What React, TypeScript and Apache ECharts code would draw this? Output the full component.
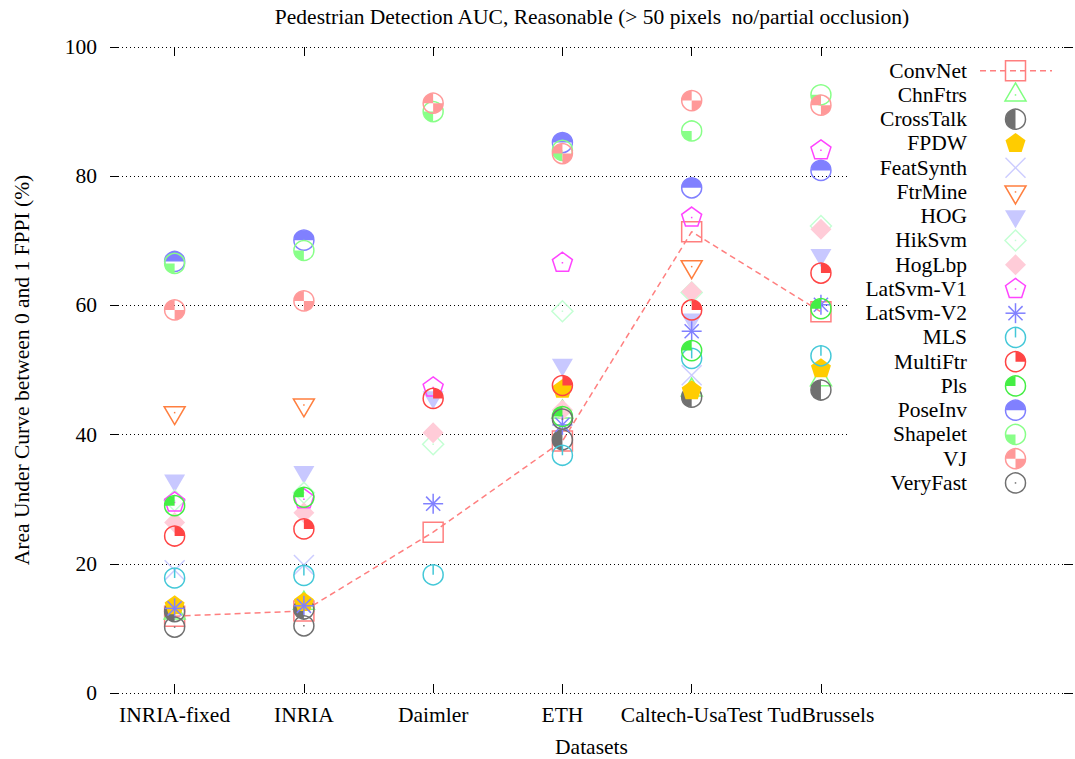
import React, { useEffect, useRef } from "react";
import * as echarts from "echarts";

// Datasets on the x axis and value ticks on the y axis
const datasets = ["INRIA-fixed", "INRIA", "Daimler", "ETH", "Caltech-UsaTest", "TudBrussels"];
const yTicks = [0, 20, 40, 60, 80, 100];

// Area under curve (%) per detector, one value per dataset (null = not evaluated)
const convNet = [11.9, 12.7, 24.9, 39.0, 71.4, 59.0];
const chnFtrs = [12.4, 13.9, null, 43.5, 46.9, 48.5];
const crossTalk = [12.6, 13.0, null, 39.2, 45.8, 46.9];
const fpdw = [13.5, 14.0, null, 47.0, 46.8, 50.2];
const featSynth = [19.0, 19.8, null, null, 49.2, null];
const ftrMine = [43.4, 44.6, null, null, 66.0, null];
const hog = [32.9, 34.2, 45.8, 50.8, 57.8, 67.8];
const hikSvm = [29.8, 31.0, 38.5, 59.1, 62.0, 72.3];
const hogLbp = [26.4, 27.9, 40.3, 43.8, 62.1, 71.8];
const latSvmV1 = [29.5, 30.0, 47.3, 66.6, 73.6, 84.0];
const latSvmV2 = [13.1, 13.5, 29.3, 41.5, 56.0, 60.1];
const mls = [17.8, 18.2, 18.3, 36.8, 51.8, 52.2];
const multiFtr = [24.3, 25.4, 45.6, 47.6, 59.3, 65.0];
const pls = [29.0, 30.3, null, 42.8, 53.0, 59.5];
const poseInv = [66.8, 70.1, null, 85.2, 78.2, 80.9];
const shapelet = [66.5, 68.5, 90.0, 84.0, 87.0, 92.6];
const vj = [59.3, 60.7, 91.3, 83.5, 91.7, 91.0];
const veryFast = [10.2, 10.4, null, 42.4, null, null];

type Kind =
  | "square" | "triUpDot" | "halfLeft" | "pentFill" | "cross" | "triDownDot"
  | "triDownFill" | "diamondDot" | "diamondFill" | "pentDot" | "asterisk"
  | "ringTop" | "quarterTR" | "quarterTL" | "halfTop" | "quarterBL" | "checker" | "ringDot";

const detectors: { name: string; values: (number | null)[]; kind: Kind; color: string }[] = [
  { name: "ConvNet", values: convNet, kind: "square", color: "#ff7f7f" },
  { name: "ChnFtrs", values: chnFtrs, kind: "triUpDot", color: "#7fff7f" },
  { name: "CrossTalk", values: crossTalk, kind: "halfLeft", color: "#707070" },
  { name: "FPDW", values: fpdw, kind: "pentFill", color: "#ffcc00" },
  { name: "FeatSynth", values: featSynth, kind: "cross", color: "#ccccff" },
  { name: "FtrMine", values: ftrMine, kind: "triDownDot", color: "#ff7f3f" },
  { name: "HOG", values: hog, kind: "triDownFill", color: "#c8c8ff" },
  { name: "HikSvm", values: hikSvm, kind: "diamondDot", color: "#c4ffd4" },
  { name: "HogLbp", values: hogLbp, kind: "diamondFill", color: "#ffccd8" },
  { name: "LatSvm-V1", values: latSvmV1, kind: "pentDot", color: "#ff44ff" },
  { name: "LatSvm-V2", values: latSvmV2, kind: "asterisk", color: "#8080ff" },
  { name: "MLS", values: mls, kind: "ringTop", color: "#44c8d8" },
  { name: "MultiFtr", values: multiFtr, kind: "quarterTR", color: "#ff4444" },
  { name: "Pls", values: pls, kind: "quarterTL", color: "#44ee44" },
  { name: "PoseInv", values: poseInv, kind: "halfTop", color: "#8080ff" },
  { name: "Shapelet", values: shapelet, kind: "quarterBL", color: "#88ff88" },
  { name: "VJ", values: vj, kind: "checker", color: "#ff9999" },
  { name: "VeryFast", values: veryFast, kind: "ringDot", color: "#707070" },
];

const FONT = "'Liberation Serif', 'Times New Roman', serif";
const FONT_SIZE = 21.5;
const R = 10;
const LW = 1.5;
const PI = Math.PI;

function polyPoints(cx: number, cy: number, r: number, n: number, start: number) {
  const pts: number[][] = [];
  for (let k = 0; k < n; k++) {
    const a = start + (k * 2 * PI) / n;
    pts.push([cx + r * Math.cos(a), cy + r * Math.sin(a)]);
  }
  return pts;
}

// Builds the drawing primitives of one marker centred at (cx, cy)
function markerShapes(kind: Kind, color: string, cx: number, cy: number): any[] {
  const stroke = { fill: "none", stroke: color, lineWidth: LW };
  const dot = { type: "rect", shape: { x: cx - 0.75, y: cy - 0.75, width: 1.5, height: 1.5 }, style: { fill: color } };
  const ring = { type: "circle", shape: { cx, cy, r: R }, style: stroke };
  const sector = (a0: number, a1: number) => ({
    type: "sector",
    shape: { cx, cy, r0: 0, r: R, startAngle: a0, endAngle: a1, clockwise: true },
    style: { fill: color },
  });
  const line = (x1: number, y1: number, x2: number, y2: number) => ({
    type: "line",
    shape: { x1, y1, x2, y2 },
    style: { stroke: color, lineWidth: LW },
  });
  const triUp = [[cx, cy - 12], [cx + 10.5, cy + 6], [cx - 10.5, cy + 6]];
  const triDown = [[cx, cy + 12], [cx + 10.5, cy - 6], [cx - 10.5, cy - 6]];
  const diamond = [[cx, cy - 10.5], [cx + 10.5, cy], [cx, cy + 10.5], [cx - 10.5, cy]];
  switch (kind) {
    case "square":
      return [{ type: "rect", shape: { x: cx - R, y: cy - R, width: 2 * R, height: 2 * R }, style: stroke }];
    case "triUpDot":
      return [{ type: "polygon", shape: { points: triUp }, style: stroke }, dot];
    case "halfLeft":
      return [sector(PI / 2, (3 * PI) / 2), ring];
    case "pentFill":
      return [{ type: "polygon", shape: { points: polyPoints(cx, cy, 10.5, 5, -PI / 2) }, style: { fill: color } }];
    case "cross":
      return [line(cx - 10, cy - 10, cx + 10, cy + 10), line(cx - 10, cy + 10, cx + 10, cy - 10)];
    case "triDownDot":
      return [{ type: "polygon", shape: { points: triDown }, style: stroke }, dot];
    case "triDownFill":
      return [{ type: "polygon", shape: { points: triDown }, style: { fill: color } }];
    case "diamondDot":
      return [{ type: "polygon", shape: { points: diamond }, style: stroke }, dot];
    case "diamondFill":
      return [{ type: "polygon", shape: { points: diamond }, style: { fill: color } }];
    case "pentDot":
      return [{ type: "polygon", shape: { points: polyPoints(cx, cy, 10.5, 5, -PI / 2) }, style: stroke }, dot];
    case "asterisk": {
      const d = 10 * Math.SQRT1_2;
      return [
        line(cx, cy - 10, cx, cy + 10),
        line(cx - 10, cy, cx + 10, cy),
        line(cx - d, cy - d, cx + d, cy + d),
        line(cx - d, cy + d, cx + d, cy - d),
      ];
    }
    case "ringTop":
      return [ring, line(cx, cy - R, cx, cy)];
    case "quarterTR":
      return [sector(-PI / 2, 0), ring];
    case "quarterTL":
      return [sector(PI, (3 * PI) / 2), ring];
    case "halfTop":
      return [sector(PI, 2 * PI), ring];
    case "quarterBL":
      return [sector(PI / 2, PI), ring];
    case "checker":
      return [sector(PI, (3 * PI) / 2), sector(0, PI / 2), ring];
    case "ringDot":
      return [ring, dot];
  }
  return [];
}

// Legend block drawn inside the plot's upper-right corner
function legendElements(): any[] {
  const els: any[] = [];
  const top = 70.7;
  const step = 24.25;
  const textX = 967;
  const markX = 1015.5;
  els.push({ type: "rect", shape: { x: 848, y: 57, width: 227, height: 441 }, style: { fill: "#ffffff" }, z: 100 });
  detectors.forEach((d, i) => {
    const y = top + i * step;
    els.push({
      type: "text",
      x: textX,
      y,
      z: 101,
      style: {
        text: d.name,
        fill: "#000",
        font: `${FONT_SIZE}px ${FONT}`,
        align: "right",
        verticalAlign: "middle",
        textAlign: "right",
        textVerticalAlign: "middle",
      },
    });
    if (d.name === "ConvNet") {
      els.push({
        type: "line",
        z: 101,
        shape: { x1: 980, y1: y, x2: 1052, y2: y },
        style: { stroke: d.color, lineWidth: LW, lineDash: [6, 4] },
      });
    }
    markerShapes(d.kind, d.color, markX, y).forEach((s) => els.push({ ...s, z: 102 }));
  });
  return els;
}

const catIndex = datasets.map((_, i) => i);

export default function App() {
  const ref = useRef<HTMLDivElement>(null);

  useEffect(() => {
    if (!ref.current) return;
    const chart = echarts.init(ref.current, undefined, { renderer: "svg" });

    const markerSeries = detectors.map((d) => ({
      type: "custom",
      name: d.name,
      xAxisIndex: 0,
      yAxisIndex: 0,
      encode: { x: 0, y: 1 },
      data: d.values.flatMap((v, i) => (v == null ? [] : [[i, v]])),
      renderItem: (_p: any, api: any) => {
        const pt = api.coord([api.value(0), api.value(1)]);
        return { type: "group", children: markerShapes(d.kind, d.color, pt[0], pt[1]) };
      },
    }));

    const tickStyle = { show: true, inside: true, length: 9, lineStyle: { color: "#000", width: 1 } };

    const option: any = {
      animation: false,
      backgroundColor: "#ffffff",
      grid: { left: 110, right: 2, top: 47, bottom: 66, containLabel: false, outerBoundsMode: "none" },
      xAxis: [
        {
          type: "value",
          min: -0.5,
          max: 6.95,
          position: "bottom",
          axisLine: { show: false, onZero: false },
          splitLine: { show: false },
          axisTick: { ...tickStyle, customValues: catIndex },
          axisLabel: {
            customValues: catIndex,
            formatter: (v: number) => datasets[Math.round(v)] ?? "",
            fontFamily: FONT,
            fontSize: FONT_SIZE,
            color: "#000",
            margin: 11,
          },
          name: "Datasets",
          nameLocation: "middle",
          nameGap: 43,
          nameTextStyle: { fontFamily: FONT, fontSize: FONT_SIZE, color: "#000" },
        },
        {
          type: "value",
          min: -0.5,
          max: 6.95,
          position: "top",
          axisLine: { show: false, onZero: false },
          splitLine: { show: false },
          axisTick: { ...tickStyle, customValues: catIndex },
          axisLabel: { show: false },
        },
      ],
      yAxis: [
        {
          type: "value",
          min: yTicks[0],
          max: yTicks[yTicks.length - 1],
          interval: 20,
          position: "left",
          axisLine: { show: false, onZero: false },
          axisTick: tickStyle,
          axisLabel: { fontFamily: FONT, fontSize: FONT_SIZE, color: "#000", margin: 13 },
          splitLine: { show: true, lineStyle: { color: "#000", width: 1, type: [1, 3] } },
          name: "Area Under Curve between 0 and 1 FPPI (%)",
          nameLocation: "middle",
          nameGap: 77,
          nameTextStyle: { fontFamily: FONT, fontSize: FONT_SIZE, color: "#000" },
        },
        {
          type: "value",
          min: yTicks[0],
          max: yTicks[yTicks.length - 1],
          interval: 20,
          position: "right",
          axisLine: { show: false, onZero: false },
          axisTick: tickStyle,
          axisLabel: { show: false },
          splitLine: { show: false },
        },
      ],
      graphic: {
        elements: [
          {
            type: "text",
            x: 592,
            y: 17,
            z: 101,
            style: {
              text: "Pedestrian Detection AUC, Reasonable (> 50 pixels  no/partial occlusion)",
              fill: "#000",
              font: `${FONT_SIZE}px ${FONT}`,
              align: "center",
              verticalAlign: "middle",
              textAlign: "center",
              textVerticalAlign: "middle",
            },
          },
          ...legendElements(),
        ],
      },
      series: [
        {
          type: "line",
          name: "ConvNet line",
          data: convNet.map((v, i) => [i, v]),
          showSymbol: false,
          symbol: "none",
          lineStyle: { color: "#ff7f7f", width: 1.5, type: [6, 4] },
          z: 1,
        },
        ...markerSeries,
      ],
    };

    chart.setOption(option);
    return () => chart.dispose();
  }, []);

  return (
    <div
      ref={ref}
      style={{ position: "fixed", left: 0, top: 0, width: 1075, height: 759, background: "#fff" }}
    />
  );
}
